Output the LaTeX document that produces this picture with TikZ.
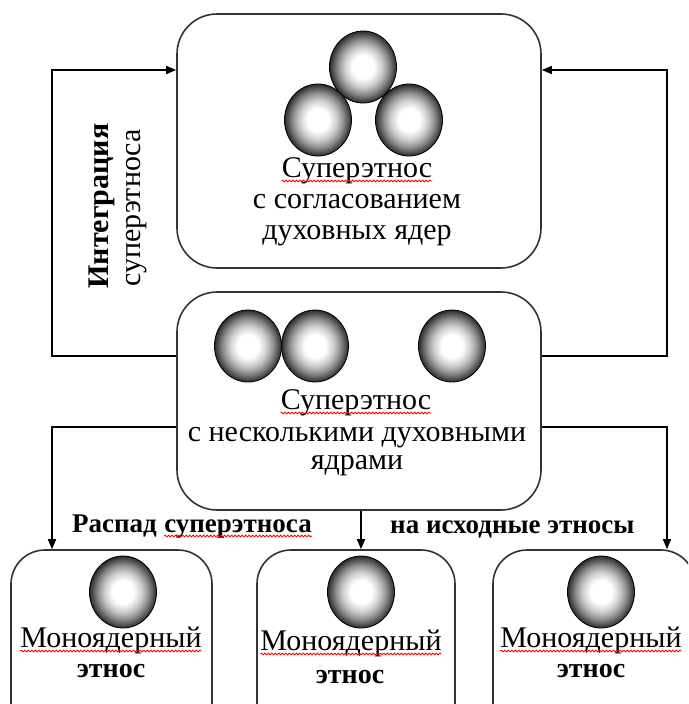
\documentclass[tikz,border=0pt]{standalone}
\usepackage{fontspec}
\setmainfont{Liberation Serif}
\usetikzlibrary{arrows.meta,shapes.geometric,decorations.pathmorphing,calc}
\pgfdeclareradialshading{nucleus}{\pgfpoint{0bp}{0bp}}{color(0bp)=(white); color(8bp)=(white); color(14bp)=(black!20); color(19bp)=(black!45); color(23bp)=(black!70); color(26bp)=(black!90); color(50bp)=(black)}
\begin{document}
\begin{tikzpicture}[x=1pt,y=-1pt,
  bigbox/.style={draw=black!80, line width=1.6pt, rounded corners=40pt, rectangle, inner sep=0pt, minimum width=364pt},
  smallbox/.style={draw=black!80, line width=1.6pt, rounded corners=34pt, rectangle, inner sep=0pt, minimum height=220pt},
  nuc/.style={ellipse, shade, shading=nucleus, draw=black, line width=0.8pt, minimum width=67pt, minimum height=72pt, inner sep=0pt},
  conn/.style={draw=black, line width=1.6pt},
  arr/.style={conn, -{Triangle[length=10pt,width=8pt]}},
  txt/.style={font=\fontsize{30}{32}\selectfont, inner sep=0pt, anchor=base},
  btxt/.style={font=\fontsize{27}{29}\selectfont\bfseries, inner sep=0pt, anchor=base west},
  etxt/.style={font=\fontsize{28}{30}\selectfont\bfseries, inner sep=0pt, anchor=base},
  squig/.style={draw=red, line width=0.8pt, decorate, decoration={snake, amplitude=0.9pt, segment length=3.5pt}}
]
\useasboundingbox (0,0) rectangle (688,704);
\clip (0,0) rectangle (688,704);
\fill[white] (0,0) rectangle (688,704);

% boxes
\node[bigbox, minimum height=254pt] (top) at (359,141) {};
\node[bigbox, minimum height=218pt] (mid) at (359,401) {};
\node[smallbox, minimum width=201pt] (bl) at (111.5,660) {};
\node[smallbox, minimum width=198pt] (bm) at (356,660) {};
\node[smallbox, minimum width=202pt] (br) at (594,660) {};

% nuclei
\node[nuc] (t1) at (363,67) {};
\node[nuc] (t2) at (318,120) {};
\node[nuc] (t3) at (409,120) {};
\node[nuc] (m1) at (248,346) {};
\node[nuc] (m2) at (315,346) {};
\node[nuc] (m3) at (452,346) {};
\node[nuc] (b1) at (123,592) {};
\node[nuc] (b2) at (361,592) {};
\node[nuc] (b3) at (601,592) {};

% texts in top box
\node[txt] (ta) at (357,177) {Суперэтнос};
\node[txt] (tb) at (357,208) {с согласованием};
\node[txt] (tc) at (357,239) {духовных ядер};
% texts in middle box
\node[txt] (ma) at (356,409) {Суперэтнос};
\node[txt] (mb) at (357,441) {с несколькими духовными};
\node[txt] (mc) at (357,469) {ядрами};
% texts in bottom boxes
\node[txt] (la) at (111,647) {Моноядерный};
\node[etxt] (lb) at (111,677) {этнос};
\node[txt] (ca) at (351,650) {Моноядерный};
\node[etxt] (cb) at (350,683) {этнос};
\node[txt] (ra) at (591,647) {Моноядерный};
\node[etxt] (rb) at (591,677) {этнос};

% side labels
\node[font=\fontsize{30}{32}\selectfont\bfseries, inner sep=0pt, anchor=base, rotate=90] (int1) at (108,206) {Интеграция};
\node[font=\fontsize{30}{32}\selectfont, inner sep=0pt, anchor=base, rotate=90] (int2) at (140,208) {суперэтноса};
\node[btxt] (rs1) at (72,532) {Распад};
\node[btxt] (rs2) at ([xshift=7pt]rs1.base east) {суперэтноса};
\node[btxt] (rs3) at (390,533) {на исходные этносы};

% spell-check squiggles
\draw[squig] ($(ta.base west)+(0,4)$) -- ($(ta.base east)+(0,4)$);
\draw[squig] ($(ma.base west)+(0,4)$) -- ($(ma.base east)+(0,4)$);
\draw[squig] ($(rs2.base west)+(0,4)$) -- ($(rs2.base east)+(0,4)$);
\draw[squig] ($(la.base west)+(0,4)$) -- ($(la.base east)+(0,4)$);
\draw[squig] ($(ca.base west)+(0,4)$) -- ($(ca.base east)+(0,4)$);
\draw[squig] ($(ra.base west)+(0,4)$) -- ($(ra.base east)+(0,4)$);

% connector corners
\coordinate (lu) at (52,356);
\coordinate (ru) at (667,356);
\coordinate (ld) at (52,427);
\coordinate (rd) at (667,427);
\coordinate (ty) at (0,70);

\draw[arr] (mid.west |- lu) -- (lu) |- (top.west |- ty);
\draw[arr] (mid.east |- ru) -- (ru) |- (top.east |- ty);
\draw[arr] (mid.west |- ld) -- (ld) -- (ld |- bl.north);
\draw[arr] (mid.east |- rd) -- (rd) -- (rd |- br.north);
\draw[arr] ([xshift=2pt]mid.south) -- ([xshift=2pt]mid.south |- bm.north);
\end{tikzpicture}
\end{document}
